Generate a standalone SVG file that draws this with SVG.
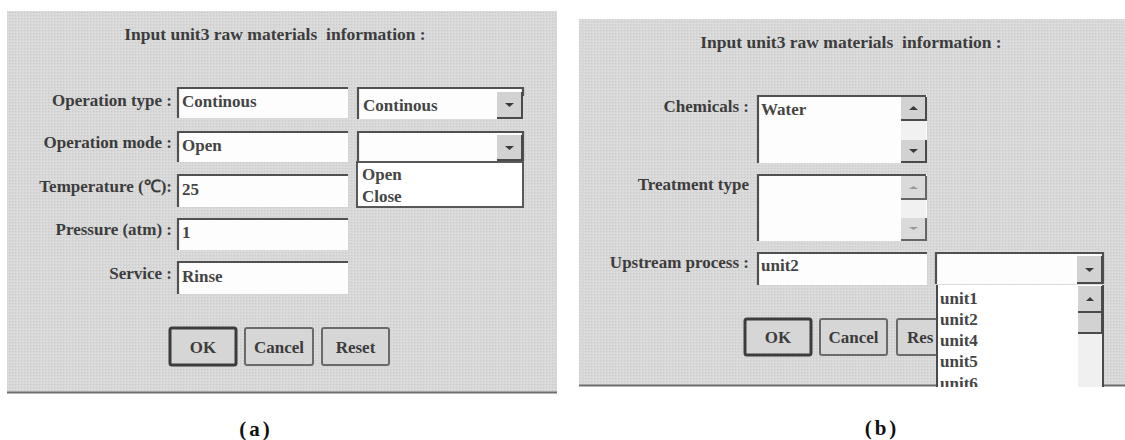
<svg xmlns="http://www.w3.org/2000/svg" width="1125" height="440" viewBox="0 0 1125 440">
<defs>
<pattern id="tex" width="3" height="3" patternUnits="userSpaceOnUse">
<rect width="3" height="3" fill="#d8d8d8"/>
<rect width="1" height="1" fill="#cacaca"/>
<rect x="2" y="2" width="1" height="1" fill="#e2e2e2"/>
</pattern>
<clipPath id="clipb"><rect x="579" y="19" width="546" height="368"/></clipPath>
<style>
.lbl{font-family:"Liberation Serif",serif;font-weight:bold;font-size:17px;fill:#3c3c3c}
.ttl{font-family:"Liberation Serif",serif;font-weight:bold;font-size:17.5px;fill:#3c3c3c}
.val{font-family:"Liberation Serif",serif;font-weight:bold;font-size:17px;fill:#454545}
.cap{font-family:"Liberation Serif",serif;font-weight:bold;font-size:21px;fill:#111;letter-spacing:3px}
.box{fill:#fdfdfd}
.sunk{fill:none;stroke:#505050;stroke-width:2.2}
.face{fill:#d2d2d2}
.shadow{fill:none;stroke:#4a4a4a;stroke-width:2}
.arr{fill:#3a3a3a}
.btn{fill:#d6d6d6;stroke:#6a6a6a;stroke-width:2}
.defbtn{fill:#d6d6d6;stroke:#3c3c3c;stroke-width:3}
</style>
</defs>
<rect width="1125" height="440" fill="#ffffff"/>

<g id="panel-a">
<rect x="7" y="11" width="550" height="382" fill="url(#tex)"/>
<path d="M7 392.5 H557" stroke="#6e6e6e" stroke-width="2"/>
<text class="ttl" x="275" y="40" text-anchor="middle">Input unit3 raw materials&#160; information :</text>
</g>

<g id="a-optype">
<text class="lbl" x="172" y="106" text-anchor="end">Operation type :</text>
<rect class="box" x="177" y="87" width="171" height="31"/>
<path class="sunk" d="M178 118 V88 H348"/>
<text class="val" x="182" y="107">Continous</text>
</g>
<g id="a-optype-dd">
<rect class="box" x="357" y="87" width="166" height="32"/>
<path class="sunk" d="M358 119 V88 H523 V96"/>
<rect class="face" x="497" y="92" width="25" height="26"/>
<path class="shadow" d="M497 118 H522 V92"/>
<path class="arr" d="M505 103 h9 l-4.5 4 z"/>
<text class="val" x="363" y="111">Continous</text>
</g>

<g id="a-opmode">
<text class="lbl" x="172" y="148" text-anchor="end">Operation mode :</text>
<rect class="box" x="177" y="131" width="171" height="31"/>
<path class="sunk" d="M178 162 V132 H348"/>
<text class="val" x="182" y="151">Open</text>
</g>
<g id="a-opmode-dd">
<rect class="box" x="357" y="131" width="166" height="30"/>
<path class="sunk" d="M358 161 V132 H523 V161"/>
<rect class="face" x="497" y="135" width="25" height="25"/>
<path class="shadow" d="M497 160 H522 V135"/>
<path class="arr" d="M505 146 h9 l-4.5 4 z"/>
<rect x="357" y="162" width="166" height="45" fill="#fff" stroke="#4a4a4a" stroke-width="1.8"/>
<text class="val" x="362" y="180">Open</text>
<text class="val" x="362" y="202">Close</text>
</g>

<g id="a-temp">
<text class="lbl" x="172" y="192" text-anchor="end">Temperature (℃):</text>
<rect class="box" x="177" y="174" width="171" height="33"/>
<path class="sunk" d="M178 207 V175 H348"/>
<text class="val" x="182" y="195">25</text>
</g>

<g id="a-press">
<text class="lbl" x="172" y="235" text-anchor="end">Pressure (atm) :</text>
<rect class="box" x="177" y="218" width="171" height="32"/>
<path class="sunk" d="M178 250 V219 H348"/>
<text class="val" x="182" y="238">1</text>
</g>

<g id="a-service">
<text class="lbl" x="172" y="279" text-anchor="end">Service :</text>
<rect class="box" x="177" y="261" width="171" height="33"/>
<path class="sunk" d="M178 294 V262 H348"/>
<text class="val" x="182" y="282">Rinse</text>
</g>

<g id="a-ok">
<rect class="defbtn" x="170" y="328" width="66" height="37" rx="2"/>
<text class="lbl" x="203" y="353" text-anchor="middle">OK</text>
</g>
<g id="a-cancel">
<rect class="btn" x="245" y="328" width="68" height="37" rx="2"/>
<text class="lbl" x="279" y="353" text-anchor="middle">Cancel</text>
</g>
<g id="a-reset">
<rect class="btn" x="322" y="328" width="67" height="37" rx="2"/>
<text class="lbl" x="355.5" y="353" text-anchor="middle">Reset</text>
</g>
<text class="cap" x="256" y="436" text-anchor="middle">(a)</text>

<g id="panel-b">
<rect x="579" y="19" width="546" height="367" fill="url(#tex)"/>
<path d="M579 385.5 H1125" stroke="#6e6e6e" stroke-width="2"/>
<text class="ttl" x="851" y="48" text-anchor="middle">Input unit3 raw materials&#160; information :</text>
</g>

<g id="b-chem">
<text class="lbl" x="749" y="112" text-anchor="end">Chemicals :</text>
<rect class="box" x="757" y="95" width="170" height="68"/>
<path class="sunk" d="M758 163 V96 H926"/>
<rect x="901" y="97" width="25" height="65" fill="#f1f1f1"/>
<rect class="face" x="901" y="97" width="25" height="23"/>
<path class="shadow" d="M901 120 H926 V97"/>
<path class="arr" d="M909 110 h9 l-4.5 -4 z"/>
<rect class="face" x="901" y="140" width="25" height="22"/>
<path class="shadow" d="M901 162 H926 V140"/>
<path class="arr" d="M909 149 h9 l-4.5 4 z"/>
<text class="val" x="761" y="115">Water</text>
</g>

<g id="b-treat">
<text class="lbl" x="749" y="190" text-anchor="end">Treatment type</text>
<rect class="box" x="757" y="174" width="170" height="67"/>
<path class="sunk" d="M758 241 V175 H926"/>
<rect x="901" y="176" width="25" height="64" fill="#f1f1f1"/>
<rect fill="#dadada" x="901" y="176" width="25" height="23"/>
<path d="M901 199 H926 V176" fill="none" stroke="#666" stroke-width="2"/>
<path d="M909 189 h9 l-4.5 -3 z" fill="#999"/>
<rect fill="#dadada" x="901" y="218" width="25" height="22"/>
<path d="M901 240 H926 V218" fill="none" stroke="#666" stroke-width="2"/>
<path d="M909 227 h9 l-4.5 3 z" fill="#999"/>
</g>

<g id="b-upstream">
<text class="lbl" x="749" y="268" text-anchor="end">Upstream process :</text>
<rect class="box" x="757" y="252" width="170" height="33"/>
<path class="sunk" d="M758 285 V253 H927"/>
<text class="val" x="761" y="271">unit2</text>
</g>

<g id="b-ok">
<rect class="defbtn" x="745" y="319" width="66" height="36" rx="2"/>
<text class="lbl" x="778" y="343" text-anchor="middle">OK</text>
</g>
<g id="b-cancel">
<rect class="btn" x="820" y="319" width="67" height="36" rx="2"/>
<text class="lbl" x="853.5" y="343" text-anchor="middle">Cancel</text>
</g>
<g id="b-reset">
<rect class="btn" x="897" y="319" width="66" height="36" rx="2"/>
<text class="lbl" x="907" y="343">Res</text>
</g>

<g id="b-upstream-dd" clip-path="url(#clipb)">
<rect class="box" x="935" y="252" width="168" height="32"/>
<path class="sunk" d="M936 284 V253 H1103 V284"/>
<rect class="face" x="1077" y="256" width="25" height="27"/>
<path class="shadow" d="M1077 283 H1102 V256"/>
<path class="arr" d="M1085 268 h9 l-4.5 4 z"/>
<rect x="937" y="285" width="166" height="104" fill="#fff"/>
<path d="M937 285 V389 M1103 285 V389" stroke="#4a4a4a" stroke-width="2"/>
<rect x="1078" y="286" width="24" height="103" fill="#f0f0f0"/>
<rect class="face" x="1078" y="286" width="24" height="26"/>
<path class="shadow" d="M1078 312 H1102 V286"/>
<path class="arr" d="M1086 301 h8 l-4 -4 z"/>
<rect class="face" x="1078" y="313" width="24" height="20"/>
<path class="shadow" d="M1078 333 H1102 V313"/>
<text class="val" x="940" y="304">unit1</text>
<text class="val" x="940" y="325">unit2</text>
<text class="val" x="940" y="346">unit4</text>
<text class="val" x="940" y="367">unit5</text>
<text class="val" x="940" y="389">unit6</text>
</g>
<text class="cap" x="882" y="435" text-anchor="middle">(b)</text>
</svg>
